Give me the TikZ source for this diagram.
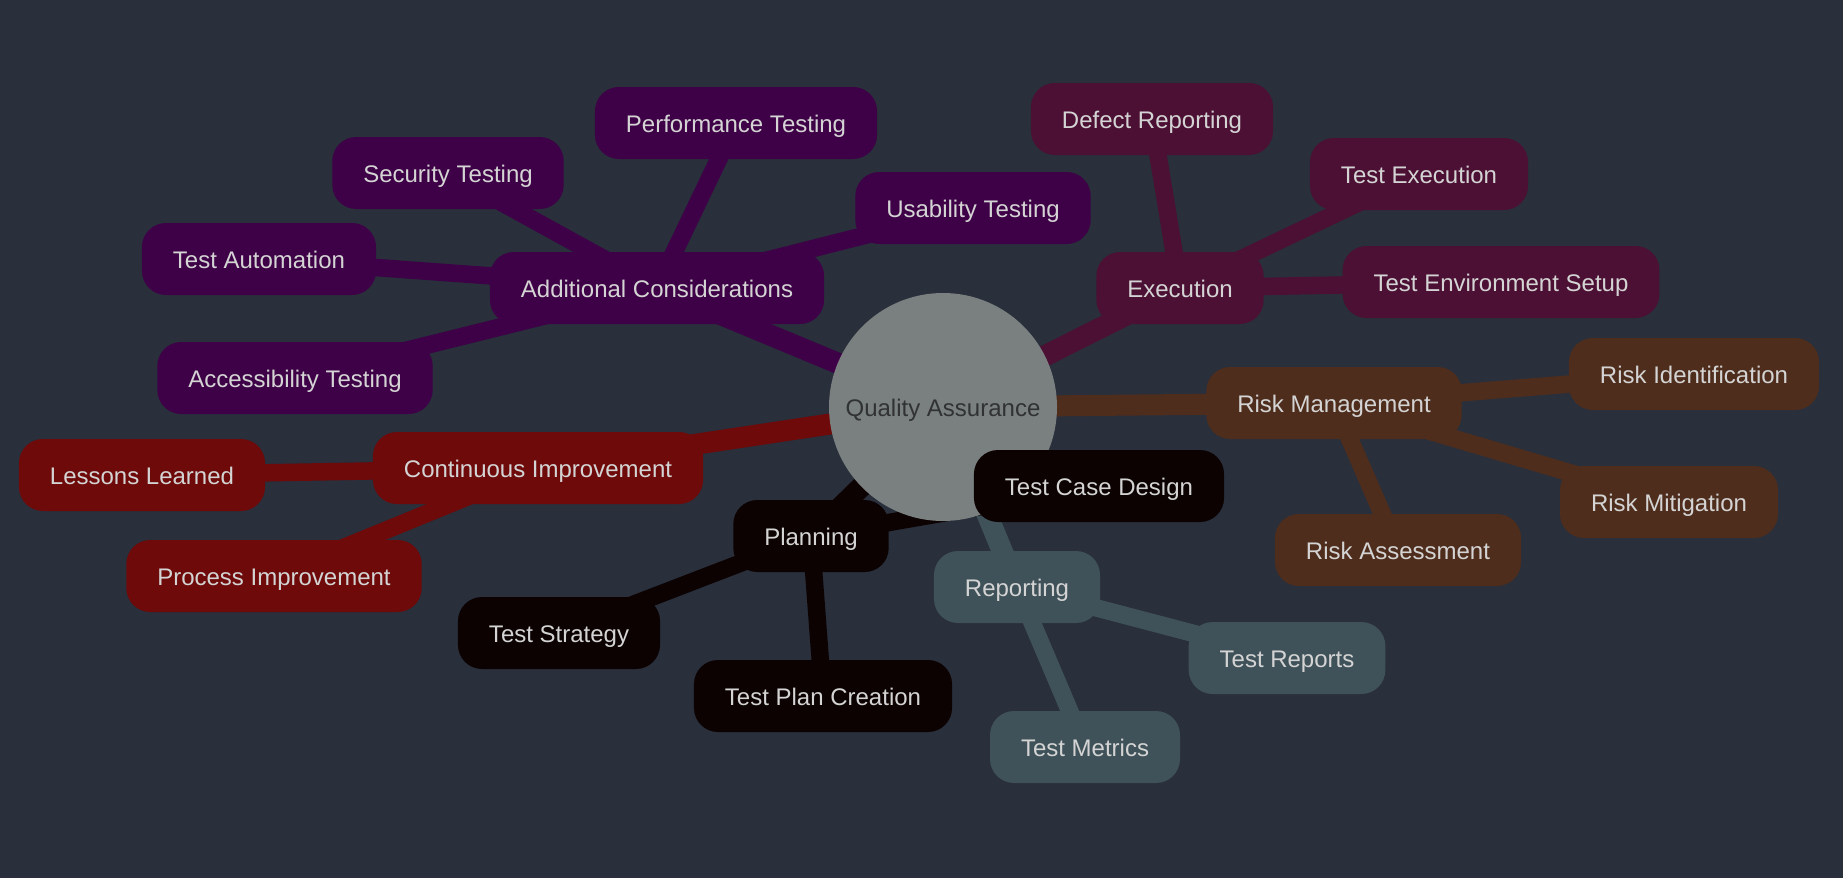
\documentclass[tikz,border=0pt]{standalone}
\usepackage{fontspec}
\setmainfont{Liberation Sans}
\definecolor{bgcol}{RGB}{41,47,59}
\definecolor{qacol}{RGB}{122,127,127}
\definecolor{qatxt}{RGB}{48,50,52}
\definecolor{txtcol}{RGB}{212,212,212}
\definecolor{purp}{RGB}{62,0,70}
\definecolor{maroon}{RGB}{76,16,52}
\definecolor{brown}{RGB}{79,45,28}
\definecolor{redb}{RGB}{110,10,10}
\definecolor{blackb}{RGB}{12,2,2}
\definecolor{teal}{RGB}{64,82,89}
\pgfdeclarelayer{bg}
\pgfdeclarelayer{edges}
\pgfsetlayers{bg,edges,main}
\tikzset{
 topic/.style={rounded corners=24pt, minimum height=72pt, inner xsep=31pt, text height=22pt, text depth=3pt, text=txtcol, font=\fontsize{24}{28}\selectfont},
}
\begin{document}
\begin{tikzpicture}[x=1pt,y=-1pt]
 \useasboundingbox (0,0) rectangle (1843,878);
 \begin{pgfonlayer}{bg}
 \fill[bgcol] (0,0) rectangle (1843,878);
 \end{pgfonlayer}
 % centre
 \node[circle, fill=qacol, minimum size=228pt, text height=22pt, text depth=3pt, text=qatxt, font=\fontsize{24}{28}\selectfont] (qa) at (943,407) {Quality Assurance};
 % additional considerations
 \node[topic, fill=purp] (addc) at (657,288) {Additional Considerations};
 \node[topic, fill=purp] (perf) at (736,123) {Performance Testing};
 \node[topic, fill=purp] (sec) at (448,173) {Security Testing};
 \node[topic, fill=purp] (usab) at (973,208) {Usability Testing};
 \node[topic, fill=purp] (auto) at (259,259) {Test Automation};
 \node[topic, fill=purp] (acc) at (295,378) {Accessibility Testing};
 % execution
 \node[topic, fill=maroon] (exec) at (1180,288) {Execution};
 \node[topic, fill=maroon] (defect) at (1152,119) {Defect Reporting};
 \node[topic, fill=maroon] (texec) at (1419,174) {Test Execution};
 \node[topic, fill=maroon] (envset) at (1501,282) {Test Environment Setup};
 % risk
 \node[topic, fill=brown] (riskm) at (1334,403) {Risk Management};
 \node[topic, fill=brown] (riski) at (1694,374) {Risk Identification};
 \node[topic, fill=brown] (riskmit) at (1669,502) {Risk Mitigation};
 \node[topic, fill=brown] (riska) at (1398,550) {Risk Assessment};
 % planning
 \node[topic, fill=blackb] (plan) at (811,536) {Planning};
 \node[topic, fill=blackb] (tcd) at (1099,486) {Test Case Design};
 \node[topic, fill=blackb] (strat) at (559,633) {Test Strategy};
 \node[topic, fill=blackb] (tplan) at (823,696) {Test Plan Creation};
 % reporting
 \node[topic, fill=teal] (rep) at (1017,587) {Reporting};
 \node[topic, fill=teal] (trep) at (1287,658) {Test Reports};
 \node[topic, fill=teal] (tmet) at (1085,747) {Test Metrics};
 % improvement
 \node[topic, fill=redb] (ci) at (538,468) {Continuous Improvement};
 \node[topic, fill=redb] (lessons) at (142,475) {Lessons Learned};
 \node[topic, fill=redb] (procimp) at (274,576) {Process Improvement};
 \begin{pgfonlayer}{edges}
 \foreach \a/\c in {addc/purp,exec/maroon,riskm/brown,plan/blackb,rep/teal,ci/redb}
  \draw[line width=21pt, \c] (qa.center) -- (\a.center);
 \foreach \a/\b/\c in {addc/perf/purp,addc/sec/purp,addc/usab/purp,addc/auto/purp,addc/acc/purp,
  exec/defect/maroon,exec/texec/maroon,exec/envset/maroon,
  riskm/riski/brown,riskm/riskmit/brown,riskm/riska/brown,
  plan/tcd/blackb,plan/strat/blackb,plan/tplan/blackb,
  rep/trep/teal,rep/tmet/teal,ci/lessons/redb,ci/procimp/redb}
  \draw[line width=17.5pt, \c] (\a.center) -- (\b.center);
 \end{pgfonlayer}
\end{tikzpicture}
\end{document}
